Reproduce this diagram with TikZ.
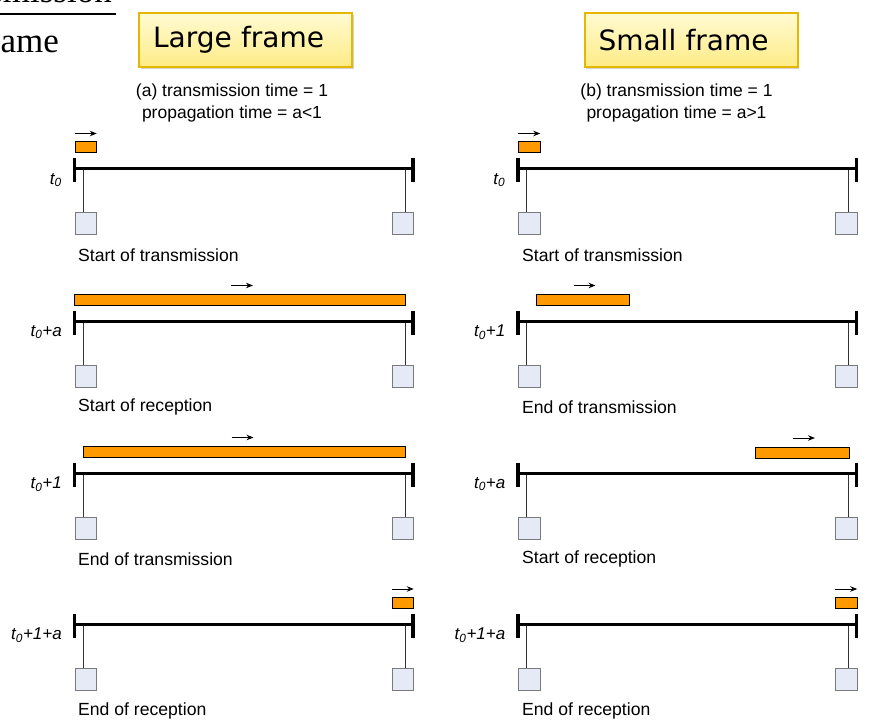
\documentclass[tikz,border=0pt]{standalone}
\usepackage{fontspec}
\setmainfont{Liberation Sans}
\newfontfamily\titlefont{DejaVu Sans}
\newfontfamily\slidefont{Liberation Serif}
\usetikzlibrary{arrows.meta,shadows}

\definecolor{pktorange}{HTML}{FF9900}
\definecolor{stafill}{HTML}{E6EAF6}
\definecolor{stadraw}{HTML}{7A7A7A}
\definecolor{titletop}{HTML}{FFFAD2}
\definecolor{titlebot}{HTML}{FEEC86}
\definecolor{titledraw}{HTML}{E5B700}

\newcommand{\tzero}[1]{\textit{t\textsubscript{0}#1}}

\tikzset{
  bus/.style={line width=3pt},
  bustick/.style={line width=3.2pt},
  drop/.style={line width=0.9pt, black!80},
  station/.style={draw=stadraw, fill=stafill, line width=1pt, minimum width=21.5pt,
    minimum height=22pt, inner sep=0pt, anchor=north west},
  packet/.style={draw=black, fill=pktorange, line width=1pt, minimum height=11pt,
    inner sep=0pt, anchor=north west},
  pktarrow/.style={->, line width=0.9pt},
  timelbl/.style={anchor=east, inner sep=0pt, font=\fontsize{17}{20}\selectfont},
  rowcap/.style={anchor=west, inner sep=0pt, font=\fontsize{17.6}{21}\selectfont},
  subtitle/.style={align=center, inner sep=0pt, font=\fontsize{17.5}{22}\selectfont},
  titlebox/.style={draw=titledraw, line width=2pt, top color=titletop, bottom color=titlebot,
    text width=185pt, align=left, inner xsep=14pt, minimum height=54pt,
    font=\titlefont\fontsize{28}{32}\selectfont,
    drop shadow={shadow xshift=1.5pt, shadow yshift=-2pt, opacity=0.35}}
}

\begin{document}
\begin{tikzpicture}[x=1pt, y=-1pt, >={Stealth[length=7pt,width=5.5pt]}]
  \useasboundingbox (0,0) rectangle (881,722);

  % Slide title, cut off
  \node[anchor=base east, inner sep=0pt, font=\slidefont\fontsize{35}{40}\selectfont]
    (slidetop) at (112,3) {transmission};
  \coordinate (rulew) at (0,14);
  \coordinate (rulee) at (116,14);
  \draw[line width=1.5pt] (rulew) -- (rulee);
  \node[anchor=base west, inner sep=0pt, font=\slidefont\fontsize{35}{40}\selectfont]
    (slideame) at (0.5,53) {ame};

  %%%%%%%%%%%%%%%%%%%%%%%%%%%%%%%%%%%%%%%%%%%%%%%%%
  \begin{scope}
    % Title
    \node[titlebox] (ttla) at (245.5,40) {Large frame};
    \node[subtitle] (suba) at (232,103) {(a) transmission time = 1\\propagation time = a<1};

    % Bus, stations and labels
    \foreach \r/\b/\tl/\rc in {1/169/{\tzero{}}/{Start of transmission},
        2/321/{\tzero{+a}}/{Start of reception},
        3/473/{\tzero{+1}}/{End of transmission},
        4/624.5/{\tzero{+1+a}}/{End of reception}} {
      \coordinate (a\r-w) at (74.5,\b);
      \coordinate (a\r-e) at (413,\b);
      \coordinate (a\r-dw) at (83,\b);
      \coordinate (a\r-de) at (405,\b);
      \node[station] (a\r-sw) at (74.5,\b+43.5) {};
      \node[station] (a\r-se) at (391.5,\b+43.5) {};
      \draw[drop] (a\r-dw) -- (a\r-dw |- a\r-sw.north);
      \draw[drop] (a\r-de) -- (a\r-de |- a\r-se.north);
      \draw[bus] (a\r-w) -- (a\r-e);
      \draw[bustick] ([yshift=10.5pt]a\r-w) -- ([yshift=-13.5pt]a\r-w);
      \draw[bustick] ([yshift=10.5pt]a\r-e) -- ([yshift=-13.5pt]a\r-e);
      \node[timelbl] (a\r-t) at (62,\b+11) {\tl};
      \node[rowcap] (a\r-c) at (78,\b+86) {\rc};
    }

    % Frames
    \node[packet, minimum width=21.5pt] (a1p) at (74.5,141.5) {};
    \node[packet, minimum width=331pt] (a2p) at (74,293.5) {};
    \node[packet, minimum width=322pt] (a3p) at (83,445.5) {};
    \node[packet, minimum width=21.5pt] (a4p) at (391.5,597) {};
    \draw[pktarrow] ([xshift=-11pt,yshift=8pt]a1p.north) -- ([xshift=11pt,yshift=8pt]a1p.north);
    \draw[pktarrow] ([xshift=-9pt,yshift=8pt]a2p.north) -- ([xshift=13pt,yshift=8pt]a2p.north);
    \draw[pktarrow] ([xshift=-13pt,yshift=8pt]a3p.north) -- ([xshift=9pt,yshift=8pt]a3p.north);
    \draw[pktarrow] ([xshift=-11pt,yshift=8pt]a4p.north) -- ([xshift=11pt,yshift=8pt]a4p.north);
  \end{scope}

  %%%%%%%%%%%%%%%%%%%%%%%%%%%%%%%%%%%%%%%%%%%%%%%%%
  \begin{scope}[xshift=443.5pt]
    % Title
    \node[titlebox] (ttlb) at (247.5,40) {Small frame};
    \node[subtitle] (subb) at (233,103) {(b) transmission time = 1\\propagation time = a>1};

    % Bus, stations and labels
    \foreach \r/\b/\tl/\rc in {1/169/{\tzero{}}/{Start of transmission},
        2/321/{\tzero{+1}}/{End of transmission},
        3/473/{\tzero{+a}}/{Start of reception},
        4/624.5/{\tzero{+1+a}}/{End of reception}} {
      \coordinate (b\r-w) at (74.5,\b);
      \coordinate (b\r-e) at (413,\b);
      \coordinate (b\r-dw) at (83,\b);
      \coordinate (b\r-de) at (405,\b);
      \node[station] (b\r-sw) at (74.5,\b+43.5) {};
      \node[station] (b\r-se) at (391.5,\b+43.5) {};
      \draw[drop] (b\r-dw) -- (b\r-dw |- b\r-sw.north);
      \draw[drop] (b\r-de) -- (b\r-de |- b\r-se.north);
      \draw[bus] (b\r-w) -- (b\r-e);
      \draw[bustick] ([yshift=10.5pt]b\r-w) -- ([yshift=-13.5pt]b\r-w);
      \draw[bustick] ([yshift=10.5pt]b\r-e) -- ([yshift=-13.5pt]b\r-e);
      \node[timelbl] (b\r-t) at (62,\b+11) {\tl};
      \node[rowcap] (b\r-c) at (78.5,\b+86) {\rc};
    }

    % Frames
    \node[packet, minimum width=21.5pt] (b1p) at (74.5,141.5) {};
    \node[packet, minimum width=93pt] (b2p) at (92.5,293.5) {};
    \node[packet, minimum width=94pt] (b3p) at (311.5,447) {};
    \node[packet, minimum width=21.5pt] (b4p) at (391.5,597) {};
    \draw[pktarrow] ([xshift=-11pt,yshift=8pt]b1p.north) -- ([xshift=11pt,yshift=8pt]b1p.north);
    \draw[pktarrow] ([xshift=-9.5pt,yshift=8pt]b2p.north) -- ([xshift=12.5pt,yshift=8pt]b2p.north);
    \draw[pktarrow] ([xshift=-9.5pt,yshift=9pt]b3p.north) -- ([xshift=12.5pt,yshift=9pt]b3p.north);
    \draw[pktarrow] ([xshift=-11pt,yshift=8pt]b4p.north) -- ([xshift=11pt,yshift=8pt]b4p.north);
  \end{scope}

\end{tikzpicture}
\end{document}
